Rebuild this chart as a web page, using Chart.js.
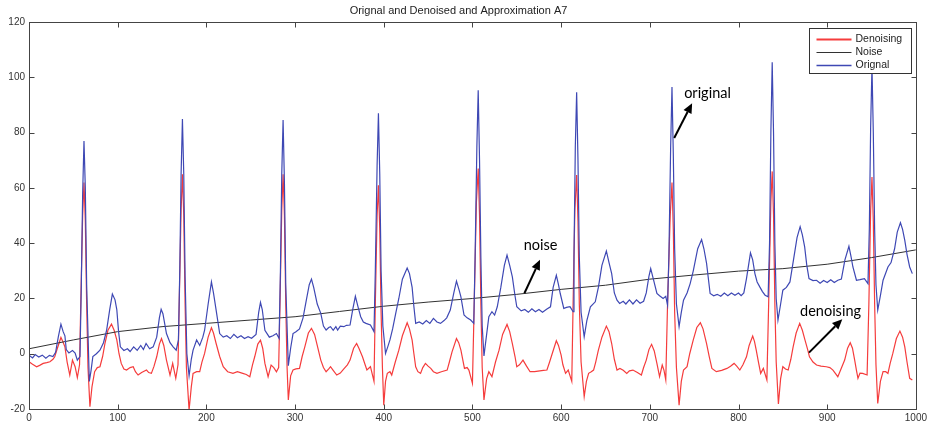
<!DOCTYPE html>
<html>
<head>
<meta charset="utf-8">
<title>Orignal and Denoised and Approximation A7</title>
<script src="https://cdn.jsdelivr.net/npm/chart.js@4.4.1/dist/chart.umd.min.js"></script>
<style>
  html, body { margin: 0; padding: 0; background: #fff; }
  #wrap { width: 930px; height: 427px; }
</style>
</head>
<body>
<div id="wrap"><canvas id="ecgChart" width="930" height="427"></canvas></div>
<script>
// samples as [index, amplitude]
const original = [
  [0,-0.5],[4,-1.5],[7,-0.3],[11,-1.2],[15,-0.5],[19,-1.6],[23,-0.6],[27,-1],[30,0.5],[33,6],[36,10.7],[38.5,8],[40.5,6.5],[42,1.5],[45,0.3],[49,1.2],[52,0.2],[54.5,-2.3],
  [57.5,-1],[59,25],[60.5,58],[62,77],[63.5,60],[65,25],[68,-10],
  [70,-6],[72,-1],[76,0],[80,1.3],[84,4],[87.5,8.5],[91,16],[94,21.6],[97,19.5],[99,16],[101,8],[103,2.5],[107,1.2],[111,1.8],[114,0.8],[118,2.5],[122,1.2],[126,3],[129,1.5],[132,3.7],[136,1.8],[140,2.5],[144,6],[147,13],[149,16.1],[151,14.5],[155,7.3],[159,4],[162.5,2.5],[166,1.3],
  [168.5,5],[170,30],[171.5,65],[173,85],[174.5,65],[176,28],[178,0],[180.5,-8],
  [183,-2],[185,1.3],[189,5],[192.5,3],[196,6],[198,8.5],[202,18],[205.7,26],[208,22],[211,15.8],[215,7.3],[219,6],[223,6.5],[227,5.5],[231,7],[235,5.8],[239,6.5],[243,5.5],[247,6.2],[251,5.6],[256,7],[259,15],[261,18.6],[263,16],[266,8.5],[271,6],[275,6.5],[279,7.3],[282,5.5],
  [283.5,30],[285,65],[286.5,84.6],[288,62],[289.5,25],[292.4,-4.3],
  [295,2],[297.7,7.3],[301,8],[305,9],[309,13],[312.7,19.4],[316,25],[318.5,27],[321,24],[325,18],[329,14.6],[332,10],[335,8.6],[338,9.5],[340,9.8],[343,8.5],[346,9.8],[348,8.6],[351,10],[355,9.8],[358,10.3],[362,10.4],[365,16],[368,20.8],[371,17],[374,13.4],[377,11.5],[380,11],[385,10.4],[389,8],
  [390.5,30],[392.5,68],[394,87],[395.5,65],[397,30],[399,10],[402,0.1],
  [404.5,2.5],[407,5],[410,9],[413.5,14.6],[417,20],[421,27],[426.4,31],[429,29],[432,24],[434,17],[436,11],[440,11.5],[444,10.8],[448,12],[452,11],[456,12.8],[460,11.5],[464,11],[468,12],[471,13],[475,15.8],[479,22],[482,26.3],[485,23],[487,20.6],[490.5,14],[494,13],[498,12.2],[501.5,11],
  [503,35],[505,75],[506.5,95.4],[508,70],[509.5,35],[511,10],[513,-0.8],
  [516,7],[518.5,13.4],[522,15.2],[525,14],[528,17],[532,24],[536,32],[539,35.7],[542,32],[545,27.8],[548,21],[550,17],[555,15.5],[559,16],[563,15],[567,16.3],[571,15.2],[575,16],[579,15],[584,16.2],[588,17],[591,24],[594.6,28.4],[597,25],[599,21.8],[603,16.4],[606,16.8],[610,17],[613.5,15.2],
  [614.5,35],[616,75],[617.5,94.6],[619,70],[620.5,35],[622.5,15],[626,6.1],
  [629,12],[633,17],[638.5,18.8],[642,24],[646,32],[651,37.2],[654,33],[657,29],[660,22],[663,19.4],[666,18.2],[670,19],[673,18],[677,19.5],[681,18],[685,19.5],[689,18.3],[693,19],[696,22],[699,28],[701,30.8],[704,27],[708,21.8],[711,21],[715,20],[718,20.8],[720,17.6],
  [721.5,35],[723.5,75],[725,96.5],[726.5,72],[728,38],[730,18],[733,9.8],
  [735.5,15],[738,19.4],[742,22],[745.5,25.4],[749,30],[754,38],[758.4,41.3],[761,38],[764,32.7],[768,21.8],[772,21],[776,21.5],[780,20.8],[784,22],[788,21],[792,22],[796,21.2],[800,22],[803,21],[806,22],[809,27.2],[813.5,36.5],[816,34],[818.5,29],[821,26],[824,24.2],[827,22.5],[830,21.2],[833.4,20.6],
  [835,40],[836.5,80],[838,105.5],[839.5,80],[841,40],[842.5,20],[844.5,12.2],
  [847,17],[850,23],[854,24],[858,26],[862,34],[866,42],[869.5,46],[872,43],[874.6,38.7],[877,32],[879.5,27.2],[884,26.5],[888,26.6],[892,25.5],[896,26.5],[900,25.8],[904,26.8],[908,25.8],[912,26.6],[916,27],[920,34],[924.5,38.9],[927,35],[929,31.4],[933,26.6],[937,26.8],[942,27.2],[946,25.4],
  [947.5,45],[949,82],[950.5,104],[952,80],[953.5,45],[955,25],[957,15.8],
  [960,21],[963,26.6],[968.5,31.4],[972,33],[976,38],[979,44],[982.6,47.4],[985,45],[987.5,41],[990,36],[993,31.4],[996,29]
];

const denoising = [
  [0,-2.9],[4,-3.8],[8.6,-4.7],[12,-4.2],[16,-3.5],[20,-3.2],[23.6,-2.9],[27,-2],[29,-1.1],[32,2],[36,5.9],[38,4.5],[40.5,2.5],[43,-3],[46,-7.7],[49,-2.3],[52,-4.7],[54.5,-8.6],
  [57,-4],[58.5,20],[60.5,50],[62,62],[63.5,48],[65,18],[66.5,-5],[68.7,-19.2],
  [71,-12],[74,-6.5],[77,-5],[80,-4.7],[83,-1],[85.6,3.7],[89,8.5],[93,10.7],[96,8.5],[99,5],[101.5,0],[104,-3.5],[107,-5.5],[110,-5.9],[114,-5],[117.5,-4.7],[120,-6.5],[123,-7.7],[127,-6.8],[132.5,-5.9],[135,-6.8],[138,-7.1],[141,-4.5],[144,-1.1],[147,3.5],[149.4,5.5],[152,3],[155,-2.3],[159,-7.7],[162,-3.5],[165.5,-8.9],
  [168,-4],[169.5,20],[171.5,52],[173,65],[174.5,50],[176,18],[177.5,-5],[180.5,-20.4],
  [183,-12],[185,-7.1],[189,-6.5],[192.5,-6.5],[195,-3],[198,0.1],[202,6],[205.7,9.4],[208,7.5],[211,3.7],[215,-1],[219,-4.7],[224,-6.5],[230,-7.1],[235,-6.5],[241,-7.1],[245,-7.5],[249,-8.3],[252,-4],[254.5,-1.1],[258,3.5],[261,4.9],[263.5,2],[266,-3.5],[269.6,-8.3],[273,-4.1],[276,-5],[279,-6.5],[281.5,-5],
  [283,18],[285,52],[286.5,65],[288,50],[289.5,18],[291,-5],[292.4,-16.7],
  [295,-8],[297.7,-5.9],[301,-5.5],[305,-5.3],[308,-1],[311,2.5],[315,7.5],[318.5,9.2],[322,7],[325,3],[329,-2.3],[332,-5],[335,-6.5],[338,-5.5],[340,-4.7],[343,-6],[347,-7.7],[351,-7],[355,-5.5],[359,-4],[362,-2.3],[366,2],[369.4,3.7],[372,2],[376,-1.1],[379,-4],[381,-5.9],[385,-4.7],[389,-10],
  [390.5,18],[392.5,50],[394,61],[395.5,45],[397,15],[398.5,-5],[400,-18.6],
  [402,-10],[404,-7.1],[407,-6.5],[409,-7.7],[413,-3],[417,1.3],[421,6.5],[426.4,11.2],[429,9],[432,4.9],[434,0],[436,-4.7],[438.5,-6.5],[441.5,-7.1],[444,-5],[447,-3.5],[450,-4.5],[453,-5.3],[456,-6.5],[460,-7.1],[465,-6.5],[471.5,-5.9],[474,-3],[477,0.7],[482,5.5],[484.5,4],[487,1.3],[491,-5.3],[494,-5],[496,-5.9],[500,-10.7],
  [502,18],[504.5,55],[506.5,67],[508,50],[509.5,18],[511,-5],[513,-16.7],
  [516,-9],[518.5,-6.5],[522,-8.3],[526,-3],[530,1.3],[534,7],[539,10.6],[542,8],[545,3.7],[548,-1],[550,-4.7],[553,-4],[557,-2.3],[561,-4.5],[565,-6.5],[570,-6.5],[576,-6.2],[580,-6],[584,-5.9],[587,-3],[590,0.1],[594.6,4.7],[597,3],[600,-0.5],[602,-4],[605,-7.1],[608,-5.9],[612,-10],
  [613.5,18],[615.5,52],[617.5,64.7],[619,48],[620.5,18],[622.5,-3],[626,-15.5],
  [628.5,-10],[631,-7.1],[634,-6.5],[636.6,-5.9],[639,-3],[642,1.3],[646,6],[651,10],[654,8],[657,3.7],[660,-2],[663,-5.9],[666.3,-5.3],[670,-6],[674,-7.1],[677,-6.2],[681,-5.9],[686,-6.8],[690.5,-7.7],[693,-5],[696,-2.3],[699,1.5],[702,3.4],[705,1],[708,-3.5],[711,-8.3],[714,-4.1],[716,-6],[718,-9.5],
  [720,18],[723,50],[725,62],[726.5,45],[728,15],[730,-5],[733,-18.6],
  [735.5,-10],[738,-5.9],[742,-4.7],[745,0],[749,5],[753,9.5],[757,11.2],[760,9],[764,3.7],[767,-1],[770,-5.3],[775,-6.5],[781,-6],[787,-5.3],[791,-4.5],[795,-3.5],[798,-4.5],[801.5,-5.9],[805,-4],[809,-1.1],[812,3],[816,6.4],[818,4.5],[820,1.3],[822.5,-3],[825,-7.1],[828,-5.3],[832,-9.5],
  [834,18],[836.5,55],[838,66],[839.5,50],[841,18],[842.5,-3],[845,-18.2],
  [847.5,-9],[850,-4.7],[853,-5.5],[856,-5.9],[859,-2],[861.6,2.5],[865,7.5],[869,11],[872,8.5],[875,4.9],[878,1.5],[880,-1.1],[884,-3],[888,-4.1],[893,-4.5],[899,-4.7],[903,-5],[906.5,-5.9],[909,-7],[912,-8.3],[915,-6],[919.7,-2.3],[923,2],[926,4],[928.5,2],[931,-2.3],[933,-6],[934.7,-8.9],[937,-7],[940,-7.1],[945,-7.7],
  [947,18],[949,52],[950.5,64],[952,48],[953.5,18],[955,-4],[957,-18],
  [960,-10],[963,-6.5],[966,-6.5],[968.5,-7.1],[971,-3.5],[974,0.1],[978,5.5],[982,8.2],[985,6],[987.5,2.5],[990,-3],[993,-8.9],[996,-9.5]
];

// slow baseline drift
const noise = [
  [0,1.8],[50,5],[100,8],[150,9.8],[200,11],[250,12.2],[300,13.4],[350,15.3],[400,17.2],[450,18.7],
  [500,20],[550,21.5],[600,23.3],[650,24.8],[700,27],[750,28.5],[800,29.9],[850,30.8],[900,32.4],[950,34.8],[1000,37.6]
];

const xTickValues = [0, 100, 200, 300, 400, 500, 600, 700, 800, 900, 1000];
const yTickValues = [-20, 0, 20, 40, 60, 80, 100, 120];

// callouts: text anchor and arrow tail/head, in data units
const callouts = [
  { text: "original", at: [738.7, 92.4], from: [727.5, 78.1], to: [747.7, 90.7] },
  { text: "noise", at: [557.8, 37.6], from: [558.6, 21.9], to: [576.2, 34.0] },
  { text: "denoising", at: [869.4, 13.8], from: [879.5, 0.4], to: [917, 12.5] }
];

const toXY = (arr) => arr.map(p => ({ x: p[0], y: p[1] }));

// box frame, inward tick marks, legend box and callout arrows
const framePlugin = {
  id: "frame",
  afterDraw(chart) {
    const { ctx, chartArea: a, scales } = chart;
    const L = Math.round(a.left) + 0.5, R = Math.round(a.right) + 0.5;
    const T = Math.round(a.top) + 0.5, B = Math.round(a.bottom) + 0.5;
    ctx.save();
    ctx.strokeStyle = "#444";
    ctx.lineWidth = 1;
    ctx.strokeRect(L, T, R - L, B - T);
    ctx.beginPath();
    xTickValues.forEach(v => {
      const px = Math.round(scales.x.getPixelForValue(v)) + 0.5;
      ctx.moveTo(px, B); ctx.lineTo(px, B - 5);
      ctx.moveTo(px, T); ctx.lineTo(px, T + 5);
    });
    yTickValues.forEach(v => {
      const py = Math.round(scales.y.getPixelForValue(v)) + 0.5;
      ctx.moveTo(L, py); ctx.lineTo(L + 5, py);
      ctx.moveTo(R, py); ctx.lineTo(R - 5, py);
    });
    ctx.stroke();

    // legend
    const bw = 102, bh = 45;
    const bx = Math.round(a.right) - 107 + 0.5, by = Math.round(a.top) + 6 + 0.5;
    ctx.fillStyle = "#fff";
    ctx.fillRect(bx, by, bw, bh);
    ctx.strokeStyle = "#333";
    ctx.strokeRect(bx, by, bw, bh);
    ctx.font = "10.5px 'Liberation Sans', Arial, sans-serif";
    ctx.textBaseline = "middle";
    chart.data.datasets.forEach((ds, i) => {
      const ly = Math.round(by + 10 + i * 13) + 0.5;
      ctx.strokeStyle = ds.borderColor;
      ctx.lineWidth = ds.legendWidth;
      ctx.beginPath();
      ctx.moveTo(bx + 7, ly); ctx.lineTo(bx + 42, ly);
      ctx.stroke();
      ctx.fillStyle = "#222";
      ctx.fillText(ds.label, bx + 46, ly);
    });

    // callouts
    ctx.fillStyle = "#000";
    ctx.strokeStyle = "#000";
    ctx.textBaseline = "alphabetic";
    ctx.font = "14.5px Lato, 'Open Sans', sans-serif";
    callouts.forEach(c => {
      const tx = scales.x.getPixelForValue(c.at[0]), ty = scales.y.getPixelForValue(c.at[1]);
      ctx.fillText(c.text, tx, ty);
      const x1 = scales.x.getPixelForValue(c.from[0]), y1 = scales.y.getPixelForValue(c.from[1]);
      const x2 = scales.x.getPixelForValue(c.to[0]), y2 = scales.y.getPixelForValue(c.to[1]);
      const ang = Math.atan2(y2 - y1, x2 - x1);
      const hl = 10, hw = 4.5;
      const bxp = x2 - hl * Math.cos(ang), byp = y2 - hl * Math.sin(ang);
      ctx.lineWidth = 2;
      ctx.beginPath();
      ctx.moveTo(x1, y1); ctx.lineTo(bxp, byp);
      ctx.stroke();
      ctx.beginPath();
      ctx.moveTo(x2, y2);
      ctx.lineTo(bxp + hw * Math.sin(ang), byp - hw * Math.cos(ang));
      ctx.lineTo(bxp - hw * Math.sin(ang), byp + hw * Math.cos(ang));
      ctx.closePath();
      ctx.fill();
    });
    ctx.restore();
  }
};

Chart.defaults.font.family = "'Liberation Sans', Arial, sans-serif";
Chart.defaults.font.size = 10;
Chart.defaults.color = "#333";

new Chart(document.getElementById("ecgChart"), {
  type: "line",
  data: {
    datasets: [
      { label: "Denoising", data: toXY(denoising), borderColor: "rgb(245,60,60)", borderWidth: 1.2, legendWidth: 2, order: 3 },
      { label: "Noise", data: toXY(noise), borderColor: "rgb(50,50,50)", borderWidth: 1, legendWidth: 1, order: 2 },
      { label: "Orignal", data: toXY(original), borderColor: "rgb(62,72,180)", borderWidth: 1.2, legendWidth: 1.3, order: 1 }
    ]
  },
  options: {
    responsive: false,
    animation: false,
    layout: { padding: { left: 0, right: 13, top: 0, bottom: 0 } },
    elements: { point: { radius: 0 }, line: { tension: 0 } },
    scales: {
      x: {
        type: "linear", min: 0, max: 1000,
        afterBuildTicks: s => { s.ticks = xTickValues.map(v => ({ value: v })); },
        afterFit: s => { s.height = 18; },
        grid: { display: false, drawTicks: false },
        border: { display: false },
        ticks: { padding: 3, maxRotation: 0, callback: v => String(v) }
      },
      y: {
        type: "linear", min: -20, max: 120,
        afterBuildTicks: s => { s.ticks = yTickValues.map(v => ({ value: v })); },
        afterFit: s => { s.width = 29; },
        grid: { display: false, drawTicks: false },
        border: { display: false },
        ticks: { padding: 4, callback: v => String(v) }
      }
    },
    plugins: {
      legend: { display: false },
      tooltip: { enabled: false },
      title: {
        display: true,
        text: "Orignal and Denoised and Approximation A7",
        color: "#222",
        font: { size: 11, weight: "normal" },
        padding: { top: 4, bottom: 5 }
      }
    }
  },
  plugins: [framePlugin]
});
</script>
</body>
</html>
